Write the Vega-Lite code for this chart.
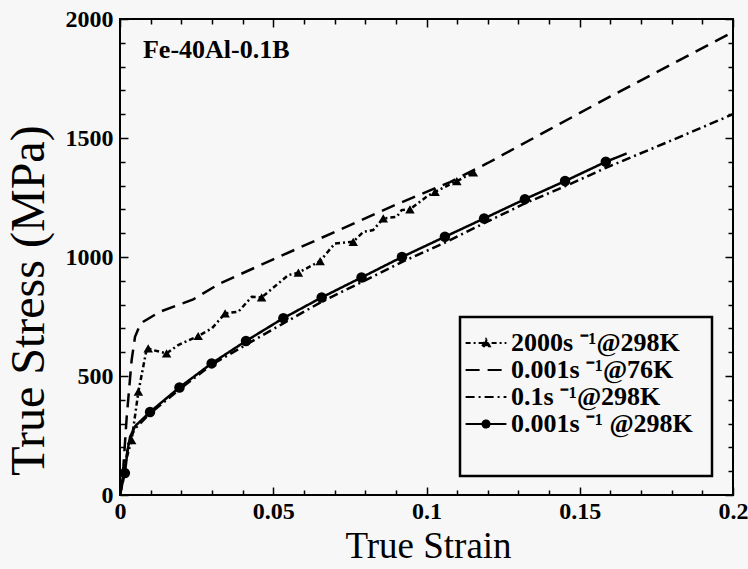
{
  "$schema": "https://vega.github.io/schema/vega-lite/v6.json",
  "width": 613,
  "height": 476,
  "autosize": "none",
  "padding": {"left": 120, "top": 19, "right": 15, "bottom": 74},
  "background": "#f7f7f7",
  "config": {
    "view": {"stroke": "black", "strokeWidth": 2},
    "legend": {"strokeWidth": 2.5}
  },
  "datasets": {
    "curves": [
      {"series": "2000s ⁻¹@298K", "strain": 0, "stress": 0},
      {"series": "2000s ⁻¹@298K", "strain": 0.0016, "stress": 130},
      {"series": "2000s ⁻¹@298K", "strain": 0.0038, "stress": 231},
      {"series": "2000s ⁻¹@298K", "strain": 0.006, "stress": 434},
      {"series": "2000s ⁻¹@298K", "strain": 0.0085, "stress": 600},
      {"series": "2000s ⁻¹@298K", "strain": 0.0092, "stress": 616},
      {"series": "2000s ⁻¹@298K", "strain": 0.011, "stress": 608},
      {"series": "2000s ⁻¹@298K", "strain": 0.0152, "stress": 595},
      {"series": "2000s ⁻¹@298K", "strain": 0.019, "stress": 630},
      {"series": "2000s ⁻¹@298K", "strain": 0.0255, "stress": 668},
      {"series": "2000s ⁻¹@298K", "strain": 0.03, "stress": 700},
      {"series": "2000s ⁻¹@298K", "strain": 0.0343, "stress": 763},
      {"series": "2000s ⁻¹@298K", "strain": 0.0386, "stress": 770},
      {"series": "2000s ⁻¹@298K", "strain": 0.043, "stress": 833},
      {"series": "2000s ⁻¹@298K", "strain": 0.0462, "stress": 830},
      {"series": "2000s ⁻¹@298K", "strain": 0.0549, "stress": 924},
      {"series": "2000s ⁻¹@298K", "strain": 0.0582, "stress": 934},
      {"series": "2000s ⁻¹@298K", "strain": 0.0653, "stress": 983},
      {"series": "2000s ⁻¹@298K", "strain": 0.0701, "stress": 1057},
      {"series": "2000s ⁻¹@298K", "strain": 0.0761, "stress": 1064},
      {"series": "2000s ⁻¹@298K", "strain": 0.0794, "stress": 1106},
      {"series": "2000s ⁻¹@298K", "strain": 0.0826, "stress": 1113},
      {"series": "2000s ⁻¹@298K", "strain": 0.0859, "stress": 1162},
      {"series": "2000s ⁻¹@298K", "strain": 0.0903, "stress": 1169},
      {"series": "2000s ⁻¹@298K", "strain": 0.0919, "stress": 1197},
      {"series": "2000s ⁻¹@298K", "strain": 0.0946, "stress": 1200},
      {"series": "2000s ⁻¹@298K", "strain": 0.1, "stress": 1253},
      {"series": "2000s ⁻¹@298K", "strain": 0.1028, "stress": 1274},
      {"series": "2000s ⁻¹@298K", "strain": 0.1099, "stress": 1319},
      {"series": "2000s ⁻¹@298K", "strain": 0.1153, "stress": 1355},
      {"series": "0.001s ⁻¹@76K", "strain": 0, "stress": 0},
      {"series": "0.001s ⁻¹@76K", "strain": 0.0011, "stress": 119},
      {"series": "0.001s ⁻¹@76K", "strain": 0.0022, "stress": 329},
      {"series": "0.001s ⁻¹@76K", "strain": 0.0038, "stress": 567},
      {"series": "0.001s ⁻¹@76K", "strain": 0.0049, "stress": 665},
      {"series": "0.001s ⁻¹@76K", "strain": 0.0065, "stress": 714},
      {"series": "0.001s ⁻¹@76K", "strain": 0.0076, "stress": 728},
      {"series": "0.001s ⁻¹@76K", "strain": 0.013, "stress": 770},
      {"series": "0.001s ⁻¹@76K", "strain": 0.0239, "stress": 822},
      {"series": "0.001s ⁻¹@76K", "strain": 0.0326, "stress": 889},
      {"series": "0.001s ⁻¹@76K", "strain": 0.05, "stress": 990},
      {"series": "0.001s ⁻¹@76K", "strain": 0.07, "stress": 1105},
      {"series": "0.001s ⁻¹@76K", "strain": 0.09, "stress": 1220},
      {"series": "0.001s ⁻¹@76K", "strain": 0.1077, "stress": 1315},
      {"series": "0.001s ⁻¹@76K", "strain": 0.12, "stress": 1395},
      {"series": "0.001s ⁻¹@76K", "strain": 0.14, "stress": 1535},
      {"series": "0.001s ⁻¹@76K", "strain": 0.16, "stress": 1675},
      {"series": "0.001s ⁻¹@76K", "strain": 0.18, "stress": 1810},
      {"series": "0.001s ⁻¹@76K", "strain": 0.2, "stress": 1945},
      {"series": "0.1s ⁻¹@298K", "strain": 0, "stress": 0},
      {"series": "0.1s ⁻¹@298K", "strain": 0.001, "stress": 60},
      {"series": "0.1s ⁻¹@298K", "strain": 0.002, "stress": 150},
      {"series": "0.1s ⁻¹@298K", "strain": 0.003, "stress": 230},
      {"series": "0.1s ⁻¹@298K", "strain": 0.005, "stress": 280},
      {"series": "0.1s ⁻¹@298K", "strain": 0.01, "stress": 345},
      {"series": "0.1s ⁻¹@298K", "strain": 0.02, "stress": 450},
      {"series": "0.1s ⁻¹@298K", "strain": 0.03, "stress": 548},
      {"series": "0.1s ⁻¹@298K", "strain": 0.042, "stress": 638},
      {"series": "0.1s ⁻¹@298K", "strain": 0.0533, "stress": 721},
      {"series": "0.1s ⁻¹@298K", "strain": 0.0658, "stress": 812},
      {"series": "0.1s ⁻¹@298K", "strain": 0.0786, "stress": 893},
      {"series": "0.1s ⁻¹@298K", "strain": 0.0921, "stress": 980},
      {"series": "0.1s ⁻¹@298K", "strain": 0.1055, "stress": 1057},
      {"series": "0.1s ⁻¹@298K", "strain": 0.1191, "stress": 1144},
      {"series": "0.1s ⁻¹@298K", "strain": 0.1321, "stress": 1225},
      {"series": "0.1s ⁻¹@298K", "strain": 0.1457, "stress": 1300},
      {"series": "0.1s ⁻¹@298K", "strain": 0.1593, "stress": 1379},
      {"series": "0.1s ⁻¹@298K", "strain": 0.18, "stress": 1490},
      {"series": "0.1s ⁻¹@298K", "strain": 0.2, "stress": 1600},
      {"series": "0.001s ⁻¹  @298K", "strain": 0, "stress": 0},
      {"series": "0.001s ⁻¹  @298K", "strain": 0.0008, "stress": 50},
      {"series": "0.001s ⁻¹  @298K", "strain": 0.0016, "stress": 92},
      {"series": "0.001s ⁻¹  @298K", "strain": 0.0025, "stress": 190},
      {"series": "0.001s ⁻¹  @298K", "strain": 0.0033, "stress": 245},
      {"series": "0.001s ⁻¹  @298K", "strain": 0.005, "stress": 290},
      {"series": "0.001s ⁻¹  @298K", "strain": 0.0098, "stress": 349},
      {"series": "0.001s ⁻¹  @298K", "strain": 0.0194, "stress": 452},
      {"series": "0.001s ⁻¹  @298K", "strain": 0.0299, "stress": 553},
      {"series": "0.001s ⁻¹  @298K", "strain": 0.0411, "stress": 647},
      {"series": "0.001s ⁻¹  @298K", "strain": 0.0533, "stress": 743},
      {"series": "0.001s ⁻¹  @298K", "strain": 0.0658, "stress": 830},
      {"series": "0.001s ⁻¹  @298K", "strain": 0.0788, "stress": 914},
      {"series": "0.001s ⁻¹  @298K", "strain": 0.092, "stress": 1000},
      {"series": "0.001s ⁻¹  @298K", "strain": 0.106, "stress": 1085},
      {"series": "0.001s ⁻¹  @298K", "strain": 0.1188, "stress": 1162},
      {"series": "0.001s ⁻¹  @298K", "strain": 0.1321, "stress": 1243},
      {"series": "0.001s ⁻¹  @298K", "strain": 0.1452, "stress": 1319},
      {"series": "0.001s ⁻¹  @298K", "strain": 0.1585, "stress": 1400},
      {"series": "0.001s ⁻¹  @298K", "strain": 0.1653, "stress": 1435}
    ],
    "markers": [
      {"series": "2000s ⁻¹@298K", "strain": 0.0038, "stress": 231},
      {"series": "2000s ⁻¹@298K", "strain": 0.006, "stress": 434},
      {"series": "2000s ⁻¹@298K", "strain": 0.0092, "stress": 616},
      {"series": "2000s ⁻¹@298K", "strain": 0.0152, "stress": 595},
      {"series": "2000s ⁻¹@298K", "strain": 0.0255, "stress": 668},
      {"series": "2000s ⁻¹@298K", "strain": 0.0343, "stress": 763},
      {"series": "2000s ⁻¹@298K", "strain": 0.0462, "stress": 830},
      {"series": "2000s ⁻¹@298K", "strain": 0.0582, "stress": 934},
      {"series": "2000s ⁻¹@298K", "strain": 0.0653, "stress": 983},
      {"series": "2000s ⁻¹@298K", "strain": 0.0761, "stress": 1064},
      {"series": "2000s ⁻¹@298K", "strain": 0.0859, "stress": 1162},
      {"series": "2000s ⁻¹@298K", "strain": 0.0946, "stress": 1200},
      {"series": "2000s ⁻¹@298K", "strain": 0.1028, "stress": 1274},
      {"series": "2000s ⁻¹@298K", "strain": 0.1099, "stress": 1319},
      {"series": "2000s ⁻¹@298K", "strain": 0.1153, "stress": 1355},
      {"series": "0.001s ⁻¹  @298K", "strain": 0.0016, "stress": 92},
      {"series": "0.001s ⁻¹  @298K", "strain": 0.0098, "stress": 349},
      {"series": "0.001s ⁻¹  @298K", "strain": 0.0194, "stress": 452},
      {"series": "0.001s ⁻¹  @298K", "strain": 0.0299, "stress": 553},
      {"series": "0.001s ⁻¹  @298K", "strain": 0.0411, "stress": 647},
      {"series": "0.001s ⁻¹  @298K", "strain": 0.0533, "stress": 743},
      {"series": "0.001s ⁻¹  @298K", "strain": 0.0658, "stress": 830},
      {"series": "0.001s ⁻¹  @298K", "strain": 0.0788, "stress": 914},
      {"series": "0.001s ⁻¹  @298K", "strain": 0.092, "stress": 1000},
      {"series": "0.001s ⁻¹  @298K", "strain": 0.106, "stress": 1085},
      {"series": "0.001s ⁻¹  @298K", "strain": 0.1188, "stress": 1162},
      {"series": "0.001s ⁻¹  @298K", "strain": 0.1321, "stress": 1243},
      {"series": "0.001s ⁻¹  @298K", "strain": 0.1452, "stress": 1319},
      {"series": "0.001s ⁻¹  @298K", "strain": 0.1585, "stress": 1400}
    ],
    "note": [
      {"label": "Fe-40Al-0.1B", "strain": 0.0075, "stress": 1869}
    ]
  },
  "layer": [
    {
      "data": {"name": "curves"},
      "mark": {"type": "line", "color": "black", "strokeWidth": 2.5, "clip": true},
      "encoding": {
        "x": {
          "field": "strain", "type": "quantitative",
          "scale": {"domain": [0, 0.2], "nice": false, "zero": false},
          "axis": {
            "orient": "bottom",
            "values": [0, 0.01, 0.02, 0.03, 0.04, 0.05, 0.06, 0.07, 0.08, 0.09, 0.1, 0.11, 0.12, 0.13, 0.14, 0.15, 0.16, 0.17, 0.18, 0.19, 0.2],
            "labelExpr": "abs(datum.value / 0.05 - round(datum.value / 0.05)) < 0.000001 ? format(datum.value, '~g') : ''",
            "tickSize": {"condition": {"test": "abs(datum.value / 0.05 - round(datum.value / 0.05)) < 0.000001", "value": -8}, "value": -5},
            "tickColor": "black", "tickWidth": 1.5,
            "domain": false, "grid": false,
            "labelFont": "Liberation Serif", "labelFontSize": 24, "labelFontWeight": "bold", "labelColor": "black",
            "labelPadding": 12, "labelFlush": false, "labelOverlap": false,
            "title": "True Strain",
            "titleFont": "Liberation Serif", "titleFontSize": 37, "titleFontWeight": "normal", "titleColor": "black",
            "titleX": 308, "titleY": 62, "titleBaseline": "alphabetic", "titleAlign": "center", "titleAnchor": null
          }
        },
        "y": {
          "field": "stress", "type": "quantitative",
          "scale": {"domain": [0, 2000], "nice": false},
          "axis": {
            "orient": "left",
            "values": [0, 100, 200, 300, 400, 500, 600, 700, 800, 900, 1000, 1100, 1200, 1300, 1400, 1500, 1600, 1700, 1800, 1900, 2000],
            "labelExpr": "datum.value % 500 === 0 ? datum.label : ''",
            "tickSize": {"condition": {"test": "datum.value % 500 === 0", "value": -8}, "value": -5},
            "tickColor": "black", "tickWidth": 1.5,
            "domain": false, "grid": false,
            "labelFont": "Liberation Serif", "labelFontSize": 24, "labelFontWeight": "bold", "labelColor": "black",
            "labelPadding": 15, "labelFlush": false, "labelOverlap": false,
            "format": "d",
            "title": "True Stress (MPa)",
            "titleFont": "Liberation Serif", "titleFontSize": 48, "titleFontWeight": "normal", "titleColor": "black",
            "titleX": -91, "titleY": 281, "titleAngle": -90, "titleAlign": "center", "titleBaseline": "middle"
          }
        },
        "strokeDash": {
          "field": "series", "type": "nominal",
          "scale": {
            "domain": ["2000s ⁻¹@298K", "0.001s ⁻¹@76K", "0.1s ⁻¹@298K", "0.001s ⁻¹  @298K"],
            "range": [[5, 3, 2, 3], [14, 8], [9, 4, 2, 4], [1, 0]]
          },
          "legend": {
            "orient": "none", "legendX": 340, "legendY": 298, "title": "\u00a0", "titleOrient": "bottom", "titleFontSize": 22, "titlePadding": 6,
            "labelFont": "Liberation Serif", "labelFontSize": 26, "labelFontWeight": "bold", "labelColor": "black",
            "labelLimit": 0, "labelOffset": 11,
            "symbolSize": 650, "symbolStrokeWidth": 2, "symbolStrokeColor": "black", "symbolFillColor": "black", "symbolOpacity": 1,
            "strokeColor": "black", "padding": 12, "rowPadding": 0, "fillColor": "#f7f7f7"
          }
        }
      }
    },
    {
      "data": {"name": "markers"},
      "transform": [{"filter": "datum.series === '2000s ⁻¹@298K'"}],
      "mark": {"type": "point", "shape": "triangle-up", "filled": true, "color": "black", "size": 90, "opacity": 1},
      "encoding": {
        "x": {"field": "strain", "type": "quantitative", "axis": null},
        "y": {"field": "stress", "type": "quantitative", "axis": null}
      }
    },
    {
      "data": {"name": "markers"},
      "transform": [{"filter": "datum.series === '0.001s ⁻¹  @298K'"}],
      "mark": {"type": "point", "shape": "circle", "filled": true, "color": "black", "size": 110, "opacity": 1},
      "encoding": {
        "x": {"field": "strain", "type": "quantitative", "axis": null},
        "y": {"field": "stress", "type": "quantitative", "axis": null}
      }
    },
    {
      "data": {"name": "markers"},
      "transform": [{"filter": "datum.strain < 0"}],
      "mark": {"type": "point", "filled": true, "fill": "black", "stroke": "black", "strokeWidth": 2, "opacity": 1},
      "encoding": {
        "x": {"field": "strain", "type": "quantitative", "axis": null},
        "y": {"field": "stress", "type": "quantitative", "axis": null},
        "shape": {
          "field": "series", "type": "nominal",
          "scale": {
            "domain": ["2000s ⁻¹@298K", "0.001s ⁻¹@76K", "0.1s ⁻¹@298K", "0.001s ⁻¹  @298K"],
            "range": ["M-1.6,0H1.6M-0.3,0.26L0,-0.3L0.3,0.26Z", "M-1.6,0H1.6", "M-1.6,0H1.6", "M-1.6,0H1.6M-0.28,0A0.28,0.28 0 1,0 0.28,0A0.28,0.28 0 1,0 -0.28,0Z"]
          },
          "legend": {
            "orient": "none", "legendX": 340, "legendY": 298, "title": "\u00a0", "titleOrient": "bottom", "titleFontSize": 22, "titlePadding": 6,
            "labelFont": "Liberation Serif", "labelFontSize": 26, "labelFontWeight": "bold", "labelColor": "black",
            "labelLimit": 0, "labelOffset": 11,
            "symbolSize": 650, "symbolStrokeWidth": 2, "symbolStrokeColor": "black", "symbolFillColor": "black", "symbolOpacity": 1,
            "strokeColor": "black", "padding": 12, "rowPadding": 0, "fillColor": "#f7f7f7"
          }
        },
        "strokeDash": {"field": "series", "type": "nominal"}
      }
    },
    {
      "data": {"name": "note"},
      "mark": {"type": "text", "align": "left", "baseline": "middle", "font": "Liberation Serif", "fontSize": 26, "fontWeight": "bold", "color": "black"},
      "encoding": {
        "text": {"field": "label"},
        "x": {
          "field": "strain", "type": "quantitative",
          "axis": {
            "orient": "top",
            "values": [0, 0.01, 0.02, 0.03, 0.04, 0.05, 0.06, 0.07, 0.08, 0.09, 0.1, 0.11, 0.12, 0.13, 0.14, 0.15, 0.16, 0.17, 0.18, 0.19, 0.2],
            "labels": false, "title": null, "domain": false, "grid": false,
            "tickSize": {"condition": {"test": "abs(datum.value / 0.05 - round(datum.value / 0.05)) < 0.000001", "value": -8}, "value": -5},
            "tickColor": "black", "tickWidth": 1.5
          }
        },
        "y": {
          "field": "stress", "type": "quantitative",
          "axis": {
            "orient": "right",
            "values": [0, 100, 200, 300, 400, 500, 600, 700, 800, 900, 1000, 1100, 1200, 1300, 1400, 1500, 1600, 1700, 1800, 1900, 2000],
            "labels": false, "title": null, "domain": false, "grid": false,
            "tickSize": {"condition": {"test": "datum.value % 500 === 0", "value": -8}, "value": -5},
            "tickColor": "black", "tickWidth": 1.5
          }
        }
      }
    }
  ]
}
